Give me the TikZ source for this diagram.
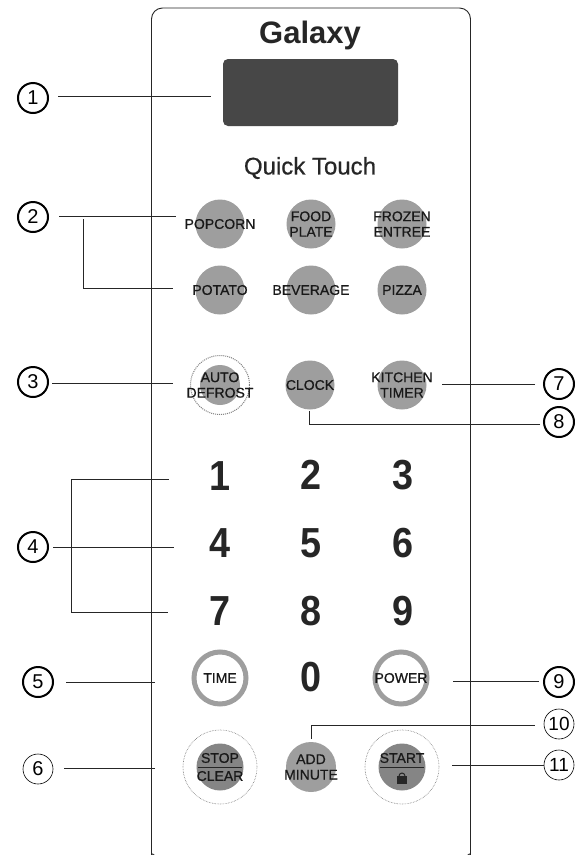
\documentclass[tikz,border=0pt]{standalone}
\usepackage{fontspec}
\setmainfont{Liberation Sans}
\newfontfamily\heavyface[FakeBold=0.7]{Liberation Sans}
\tikzset{
  callout/.style={circle,draw=black,line width=2pt,minimum size=30pt,inner sep=0pt,font=\fontsize{20}{20}\selectfont},
  calloutthin/.style={circle,draw=black,line width=0.6pt,minimum size=30pt,inner sep=0pt,font=\fontsize{20}{20}\selectfont},
  lead/.style={draw=black!85,line width=0.9pt},
  plainbtn/.style={circle,fill=black!38,minimum size=49pt,inner sep=0pt},
  btntext/.style={align=center,inner sep=0pt,text=black!90,font=\heavyface\fontsize{14}{15.5}\selectfont},
  digit/.style={inner sep=0pt,text=black!85,xscale=0.9,font=\fontsize{42}{42}\selectfont\bfseries},
  ringbtn/.style={circle,draw=black!38,line width=5pt,fill=white,minimum size=52pt,inner sep=0pt},
  outerdots/.style={circle,draw=black!55,densely dotted,line width=0.6pt,minimum size=74pt,inner sep=0pt},
}
\begin{document}
\begin{tikzpicture}[x=1pt,y=-1pt]
\useasboundingbox (0,0) rectangle (574,855);
\fill[white] (0,0) rectangle (574,855);
% panel
\draw[black!85,line width=0.9pt,rounded corners=11pt] (156,857) .. controls (153,854) and (151.5,852) .. (151.5,846) -- (151.5,8) -- (470.5,8) -- (470.5,846) .. controls (470.5,852) and (469,854) .. (466,857);
\node[inner sep=0pt,text=black!85,font=\fontsize{31}{31}\selectfont\bfseries] (brand) at (310,35) {Galaxy};
\node[draw=none,fill=black!72,rounded corners=5pt,minimum width=175pt,minimum height=67pt,inner sep=0pt] (display) at (310.5,92.5) {};
\node[inner sep=0pt,text=black!85,font=\heavyface\fontsize{24}{24}\selectfont] (quick) at (310,168) {Quick Touch};
% quick touch buttons
\node[plainbtn] (bA) at (220,224) {}; \node[btntext] at (bA) {POPCORN};
\node[plainbtn] (bB) at (311,224) {}; \node[btntext] at (bB) {FOOD\\PLATE};
\node[plainbtn] (bC) at (402,224) {}; \node[btntext] at (bC) {FROZEN\\ENTREE};
\node[plainbtn] (bD) at (220,290) {}; \node[btntext] at (bD) {POTATO};
\node[plainbtn] (bE) at (311,290) {}; \node[btntext] at (bE) {BEVERAGE};
\node[plainbtn] (bF) at (402,290) {}; \node[btntext] at (bF) {PIZZA};
% middle row
\node[circle,draw=black!50,densely dotted,line width=1pt,minimum size=59pt,inner sep=0pt] (bGo) at (220,385) {};
\node[plainbtn,minimum size=40pt] (bG) at (220,385) {}; \node[btntext] at (bG) {AUTO\\DEFROST};
\node[plainbtn] (bH) at (310,385) {}; \node[btntext] at (bH) {CLOCK};
\node[plainbtn] (bI) at (402,385) {}; \node[btntext] at (bI) {KITCHEN\\TIMER};
% digits
\node[digit] (n1) at (220,476) {1};
\node[digit] (n2) at (311,475) {2};
\node[digit] (n3) at (403,475) {3};
\node[digit] (n4) at (220,543) {4};
\node[digit] (n5) at (311,543) {5};
\node[digit] (n6) at (403,543) {6};
\node[digit] (n7) at (220,611) {7};
\node[digit] (n8) at (311,611) {8};
\node[digit] (n9) at (403,611) {9};
\node[digit] (n0) at (311,677) {0};
% bottom buttons
\node[ringbtn] (bT) at (220,678) {}; \node[btntext] at (bT) {TIME};
\node[ringbtn] (bP) at (401,678) {}; \node[btntext] at (bP) {POWER};
\node[outerdots] (bSo) at (220,767) {};
\node[plainbtn,minimum size=47pt,fill=black!48] (bS) at (220,767) {};
\node[btntext,font=\heavyface\fontsize{14}{18}\selectfont] at (bS) {STOP\\CLEAR};
\draw[black!85,line width=0.8pt] ([xshift=-22pt]bS.center) -- ([xshift=22pt]bS.center);
\node[plainbtn,minimum size=50pt] (bM) at (311,767) {}; \node[btntext] at (bM) {ADD\\MINUTE};
\node[outerdots] (bRo) at (402,767) {};
\node[plainbtn,minimum size=47pt,fill=black!48] (bR) at (402,767) {};
\node[btntext] at (402,758) {START};
\draw[black!85,line width=0.8pt] ([xshift=-22pt]bR.center) -- ([xshift=22pt]bR.center);
\fill[black!85] (397,776) rectangle (407,784);
\draw[black!85,line width=1pt] (399,776) arc[start angle=180,end angle=0,radius=3pt];
% callouts
\node[callout] (c1) at (33,98) {1};
\node[callout] (c2) at (33,217) {2};
\node[callout] (c3) at (33,382) {3};
\node[callout] (c4) at (33,547) {4};
\node[callout] (c5) at (38,682) {5};
\node[calloutthin] (c6) at (38,769) {6};
\node[callout] (c7) at (559,384) {7};
\node[callout] (c8) at (559,422) {8};
\node[callout] (c9) at (559,682) {9};
\node[calloutthin,font=\fontsize{19}{19}\selectfont] (c10) at (559,724) {10};
\node[calloutthin,font=\fontsize{19}{19}\selectfont] (c11) at (559,765) {11};
% free ends
\coordinate (e1) at (211,96);
\coordinate (e2a) at (176,216);
\coordinate (e2b) at (173,288);
\coordinate (k2) at (83,219);
\coordinate (e3) at (173,383);
\coordinate (e41) at (169,479);
\coordinate (e44) at (174,547);
\coordinate (e47) at (168,612);
\coordinate (k4) at (71,547);
\coordinate (e5) at (155,682);
\coordinate (e6) at (155,768);
\coordinate (e7) at (442,384);
\coordinate (e8) at (309,411);
\coordinate (e9) at (453,681);
\coordinate (e10) at (311,739);
\coordinate (e11) at (452,765);
% leaders
\draw[lead,shorten <=9pt] (c1.east |- e1) -- (e1);
\draw[lead,shorten <=10pt] (c2.east |- e2a) -- (e2a);
\draw[lead] (k2) |- (e2b);
\draw[lead,shorten <=3pt] (c3.east |- e3) -- (e3);
\draw[lead,shorten <=4pt] (c4.east |- e44) -- (e44);
\draw[lead] (k4) |- (e41);
\draw[lead] (k4) |- (e47);
\draw[lead,shorten <=12pt] (c5.east |- e5) -- (e5);
\draw[lead,shorten <=11pt] (c6.east |- e6) -- (e6);
\draw[lead,shorten <=8pt] (c7.west |- e7) -- (e7);
\draw[lead,shorten <=3pt] (c8.west |- 0,424) -| (e8);
\draw[lead,shorten <=4pt] (c9.west |- e9) -- (e9);
\draw[lead,shorten <=9pt] (c10.west |- 0,725) -| (e10);
\draw[lead] (c11.west |- e11) -- (e11);
\end{tikzpicture}
\end{document}
